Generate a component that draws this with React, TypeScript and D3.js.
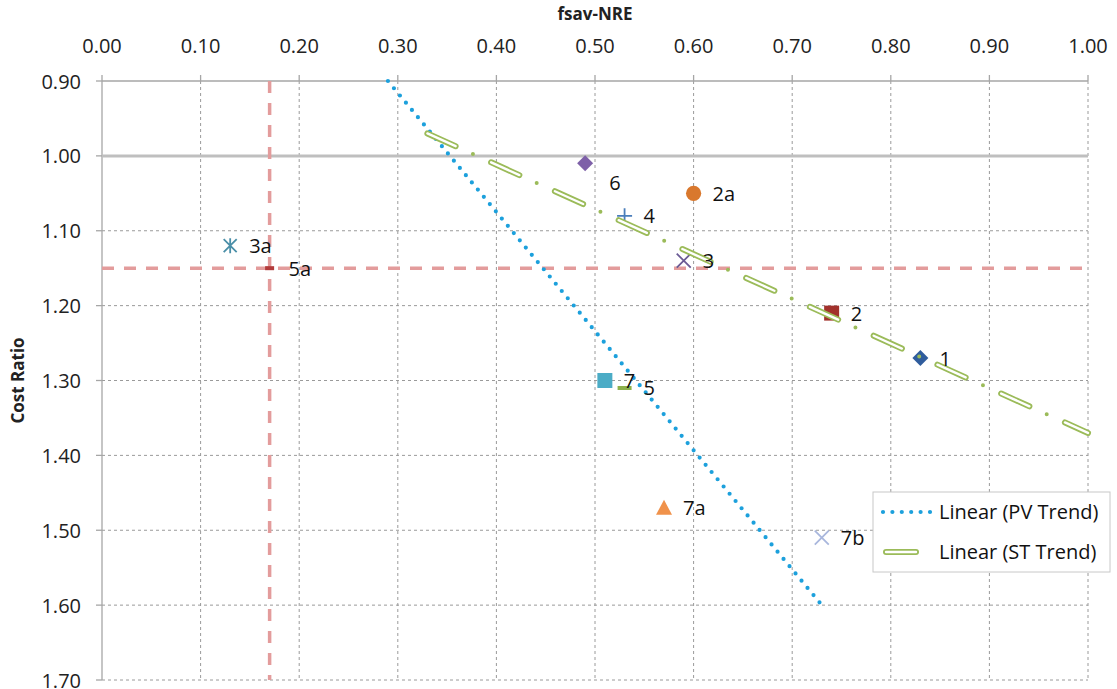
import React from "react";
import * as d3 from "d3";

// ---- data ----
const pointNames = ["1", "2", "2a", "3", "3a", "4", "5", "5a", "6", "7", "7a", "7b"];
const pointX = [0.83, 0.74, 0.60, 0.59, 0.13, 0.53, 0.53, 0.17, 0.49, 0.51, 0.57, 0.73];
const pointY = [1.27, 1.21, 1.05, 1.14, 1.12, 1.08, 1.31, 1.15, 1.01, 1.30, 1.47, 1.51];
const pointMarkers = ["diamond", "square", "circle", "x", "asterisk", "plus", "dash", "smalldash", "diamond", "square", "triangle", "x"];
const pointColors = ["#2F5C9C", "#A2312C", "#D9782D", "#6B5B95", "#4A8FA8", "#4A7EBB", "#8DB04A", "#B23A3A", "#7E60A8", "#4BACC6", "#F0924B", "#A9B7DD"];
const labelPlacement = ["right", "right", "right", "right", "right", "right", "right", "right", "belowRight", "right", "right", "right"];

const xTicks = [0, 0.1, 0.2, 0.3, 0.4, 0.5, 0.6, 0.7, 0.8, 0.9, 1.0];
const yTicks = [0.9, 1.0, 1.1, 1.2, 1.3, 1.4, 1.5, 1.6, 1.7];

const pvTrendX = [0.29, 0.73];
const pvTrendY = [0.90, 1.60];
const stTrendX = [0.33, 1.0];
const stTrendY = [0.97, 1.37];

const refVX = [0.17, 0.17];
const refVY = [0.90, 1.70];
const refHX = [0.0, 1.0];
const refHY = [1.15, 1.15];
const unityX = [0.0, 1.0];
const unityY = [1.0, 1.0];

const legendLabels = ["Linear (PV Trend)", "Linear (ST Trend)"];

const FONT = "'Open Sans', 'DejaVu Sans', sans-serif";

function markerPath(type: string): { d: string; fill: boolean; stroke?: number } {
  switch (type) {
    case "diamond":
      return { d: "M0,-8L8,0L0,8L-8,0Z", fill: true };
    case "square":
      return { d: "M-7.5,-7.5H7.5V7.5H-7.5Z", fill: true };
    case "circle":
      return { d: d3.arc()({ innerRadius: 0, outerRadius: 7.6, startAngle: 0, endAngle: Math.PI * 2 }) || "", fill: true };
    case "triangle":
      return { d: "M0,-8L8,7L-8,7Z", fill: true };
    case "x":
      return { d: "M-7,-7L7,7M7,-7L-7,7", fill: false, stroke: 1.8 };
    case "plus":
      return { d: "M-7.5,0H7.5M0,-7.5V7.5", fill: false, stroke: 1.8 };
    case "asterisk":
      return { d: "M-6.5,-6.5L6.5,6.5M6.5,-6.5L-6.5,6.5M0,-7.5V7.5", fill: false, stroke: 1.8 };
    case "dash":
      return { d: "M-7,-2H7V2H-7Z", fill: true };
    case "smalldash":
      return { d: "M-4.5,-2H4.5V2H-4.5Z", fill: true };
    default:
      return { d: "", fill: true };
  }
}

export default function App() {
  const W = 1117;
  const H = 689;
  const x = d3.scaleLinear().domain([0, 1]).range([102, 1088]);
  const y = d3.scaleLinear().domain([0.9, 1.7]).range([81, 680]);
  const line = d3
    .line<[number, number]>()
    .x((d) => x(d[0]))
    .y((d) => y(d[1]));
  const zip = (a: number[], b: number[]) => a.map((v, i) => [v, b[i]] as [number, number]);

  const gridColor = "#9A9A9A";
  const axisColor = "#A6A6A6";
  const pvColor = "#1CA0DC";
  const stColor = "#9BBB59";

  const x0 = x(0), x1 = x(1), y0 = y(0.9), y1 = y(1.7);

  return (
    <svg
      width={W}
      height={H}
      style={{ position: "absolute", left: 0, top: 0, background: "#fff" }}
      fontFamily={FONT}
    >
      <rect x={0} y={0} width={W} height={H} fill="#fff" />
      {/* gridlines */}
      {xTicks.filter((t) => t > 0).map((t) => (
        <line key={"gx" + t} x1={x(t)} x2={x(t)} y1={y0} y2={y1} stroke={gridColor} strokeWidth={1} strokeDasharray="3 3" />
      ))}
      {yTicks.filter((t) => t > 1.0001).map((t) => (
        <line key={"gy" + t} x1={x0} x2={x1} y1={y(t)} y2={y(t)} stroke={gridColor} strokeWidth={1} strokeDasharray="3 3" />
      ))}
      {/* axes */}
      <line x1={x0} x2={x1} y1={y0} y2={y0} stroke={axisColor} strokeWidth={1.3} />
      <line x1={x0} x2={x0} y1={y0} y2={y1} stroke={axisColor} strokeWidth={1.3} />
      {xTicks.map((t) => (
        <line key={"tx" + t} x1={x(t)} x2={x(t)} y1={y0 - 6} y2={y0} stroke={axisColor} strokeWidth={1.3} />
      ))}
      {yTicks.map((t) => (
        <line key={"ty" + t} x1={x0 - 6} x2={x0} y1={y(t)} y2={y(t)} stroke={axisColor} strokeWidth={1.3} />
      ))}
      {/* unity line */}
      <path d={line(zip(unityX, unityY)) || ""} stroke="#BFBFBF" strokeWidth={3} fill="none" />
      {/* reference dashed lines */}
      <path d={line(zip(refVX, refVY)) || ""} stroke="#E39C9C" strokeWidth={3.5} fill="none" strokeDasharray="12 10" />
      <path d={line(zip(refHX, refHY)) || ""} stroke="#E39C9C" strokeWidth={3.5} fill="none" strokeDasharray="12 10" />
      {/* tick labels */}
      {xTicks.map((t) => (
        <text key={"lx" + t} x={x(t)} y={53} textAnchor="middle" fontSize={20} fill="#222">
          {d3.format(".2f")(t)}
        </text>
      ))}
      {yTicks.map((t) => (
        <text key={"ly" + t} x={81} y={y(t) + 7.5} textAnchor="end" fontSize={20} fill="#222">
          {d3.format(".2f")(t)}
        </text>
      ))}
      {/* axis titles */}
      <text x={(x0 + x1) / 2} y={20} textAnchor="middle" fontSize={17} fontWeight="bold" fill="#222">
        fsav-NRE
      </text>
      <text transform={`translate(24,${(y0 + y1) / 2}) rotate(-90)`} textAnchor="middle" fontSize={17} fontWeight="bold" fill="#222">
        Cost Ratio
      </text>
      {/* markers */}
      {pointNames.map((n, i) => {
        const m = markerPath(pointMarkers[i]);
        return (
          <path
            key={"m" + n}
            transform={`translate(${x(pointX[i])},${y(pointY[i])})`}
            d={m.d}
            fill={m.fill ? pointColors[i] : "none"}
            stroke={m.fill ? "none" : pointColors[i]}
            strokeWidth={m.stroke || 0}
          />
        );
      })}
      {/* PV trend */}
      <path d={line(zip(pvTrendX, pvTrendY)) || ""} stroke={pvColor} strokeWidth={4.2} strokeLinecap="round" strokeDasharray="0 9.4" fill="none" />
      {/* ST trend: double-line dash + dot */}
      <path d={line(zip(stTrendX, stTrendY)) || ""} stroke={stColor} strokeWidth={6} strokeLinecap="round" strokeDasharray="31 39" fill="none" />
      <path d={line(zip(stTrendX, stTrendY)) || ""} stroke="#fff" strokeWidth={2.4} strokeLinecap="round" strokeDasharray="31 39" fill="none" />
      <path d={line(zip(stTrendX, stTrendY)) || ""} stroke={stColor} strokeWidth={4} strokeLinecap="round" strokeDasharray="0 70" strokeDashoffset={-50} fill="none" />
      {/* data labels */}
      {pointNames.map((n, i) => {
        const px = x(pointX[i]);
        const py = y(pointY[i]);
        const below = labelPlacement[i] === "belowRight";
        return (
          <text key={"t" + n} x={px + (below ? 24 : 19)} y={py + (below ? 27 : 7.5)} fontSize={20} fill="#111">
            {n}
          </text>
        );
      })}
      {/* legend */}
      <g transform="translate(873,492)">
        <rect x={0} y={0} width={237} height={80} fill="#fff" stroke="#C8C8C8" strokeWidth={1} />
        <line x1={10} x2={59} y1={20} y2={20} stroke={pvColor} strokeWidth={4.2} strokeLinecap="round" strokeDasharray="0 9.4" />
        <text x={66} y={27} fontSize={20} fill="#111">{legendLabels[0]}</text>
        <line x1={13} x2={43} y1={60} y2={60} stroke={stColor} strokeWidth={6} strokeLinecap="round" />
        <line x1={13} x2={43} y1={60} y2={60} stroke="#fff" strokeWidth={2.4} strokeLinecap="round" />
        <text x={66} y={67} fontSize={20} fill="#111">{legendLabels[1]}</text>
      </g>
    </svg>
  );
}
